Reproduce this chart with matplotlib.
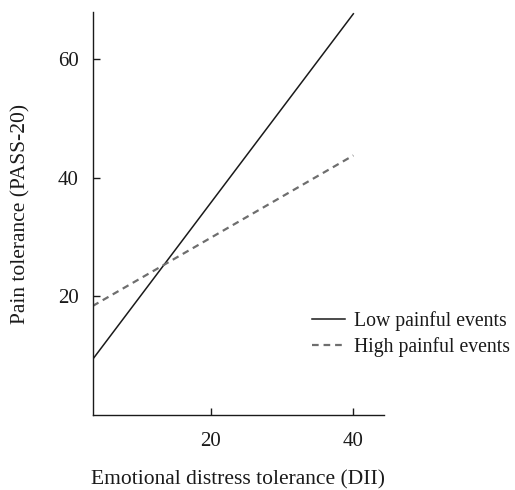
import matplotlib
matplotlib.use("Agg")
import matplotlib.pyplot as plt

plt.rcParams['font.family'] = ['Liberation Serif', 'DejaVu Serif']

dii_range = [3.4, 40]
low_events = [9.4, 67.7]
high_events = [18.4, 43.8]
xticks = [20, 40]
yticks = [20, 40, 60]
series_labels = ["Low painful events", "High painful events"]

fig = plt.figure(figsize=(5.15, 4.9), dpi=100)
ax = fig.add_axes([0.18, 0.153, 0.5656, 0.8225])

ax.plot(dii_range, low_events, color='#1a1a1a', lw=1.1, label=series_labels[0])
ax.plot(dii_range, high_events, color='#6e6e6e', lw=1.6, ls=(0, (3.0, 2.2)), label=series_labels[1])

ax.set_xlim(3.4, 44.3)
ax.set_ylim(0, 68)
ax.set_xticks(xticks)
ax.set_yticks(yticks)
for s in ['top', 'right']:
    ax.spines[s].set_visible(False)
for s in ['left', 'bottom']:
    ax.spines[s].set_linewidth(1.0)
    ax.spines[s].set_color('#1a1a1a')
ax.tick_params(axis='both', direction='in', length=5, width=1, colors='#1a1a1a', labelsize=15)
ax.tick_params(axis='x', pad=12)
ax.tick_params(axis='y', pad=10)

ax.set_xlabel("Emotional distress tolerance (DII)", fontsize=15.5, color='#1a1a1a', labelpad=14)
ax.set_ylabel("Pain tolerance (PASS-20)", fontsize=15.5, color='#1a1a1a', labelpad=20)

leg = fig.legend(loc='upper left', bbox_to_anchor=(0.606, 0.366), frameon=False,
                 fontsize=14.2, handlelength=1.65, handletextpad=0.5, labelspacing=0.33,
                 borderaxespad=0, borderpad=0)
for t in leg.get_texts():
    t.set_color('#1a1a1a')

fig.savefig("out.png", dpi=100)
